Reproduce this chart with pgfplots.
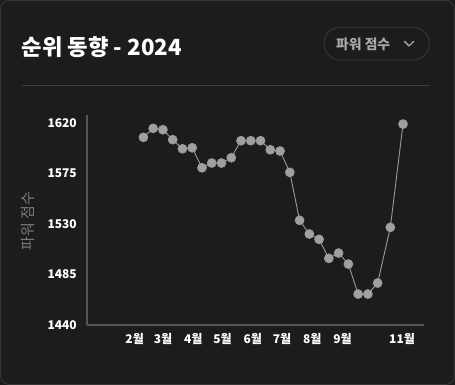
\documentclass[border=0pt]{standalone}
\usepackage{fontspec}
\setmainfont{Noto Sans CJK KR}
\usepackage{pgfplots}
\pgfplotsset{compat=1.18}
\definecolor{bg}{HTML}{1C1C1C}
\definecolor{cardborder}{HTML}{363636}
\definecolor{sepline}{HTML}{3E3E3E}
\definecolor{axisgray}{HTML}{555555}
\definecolor{ptfill}{HTML}{A0A0A0}
\definecolor{linegray}{HTML}{9A9A9A}
\definecolor{ylab}{HTML}{7A7A7A}
\definecolor{pilltext}{HTML}{A8A8A8}
\begin{document}
\begin{tikzpicture}[x=1pt,y=1pt]
\useasboundingbox (0,0) rectangle (455,385);
\fill[bg] (0,0) rectangle (455,385);
\draw[cardborder, line width=1pt, rounded corners=9pt] (0.5,0.5) rectangle (454.5,384.5);
% title
\node[anchor=west, inner sep=0pt, text=white, font=\bfseries\fontsize{22.3}{26}\selectfont] at (21.5,338.3) {순위 동향 - 2024};
% pill
\draw[cardborder, line width=0.9pt, rounded corners=16pt] (324,325) rectangle (429.3,357.7);
\node[anchor=west, inner sep=0pt, text=pilltext, font=\bfseries\fontsize{13.8}{16}\selectfont] at (336,340.7) {파워 점수};
\draw[pilltext, line width=1.4pt, line cap=round, line join=round] (404.5,343.5) -- (409,339) -- (413.5,343.5);
% separator
\draw[sepline, line width=0.9pt] (22,300) -- (430,300);
% y label
\node[rotate=90, text=ylab, font=\fontsize{15}{18}\selectfont, inner sep=0pt] at (28,164) {파워 점수};
\begin{axis}[
  at={(87pt,60.2pt)}, anchor=south west,
  width=337.3pt, height=209.8pt, scale only axis,
  xmin=-16.8, xmax=328.8, ymin=1440, ymax=1626.9,
  axis lines=left,
  axis line style={-, draw=axisgray, line width=1.5pt},
  major tick length=0pt,
  ytick={1440,1485,1530,1575,1620},
  xtick={32,61,92,122,153,183,214,245,306},
  xticklabels={2월,3월,4월,5월,6월,7월,8월,9월,11월},
  /pgf/number format/assume math mode=true,
  /pgf/number format/1000 sep={},
  tick label style={text=white, font=\bfseries\fontsize{12}{14}\selectfont},
  yticklabel style={anchor=east, inner sep=0pt, xshift=-10pt},
  xticklabel style={anchor=center, inner sep=0pt, yshift=-14.5pt},
  clip=false,
]
\addplot[color=linegray, line width=0.9pt, mark=*, mark size=4.4pt, mark options={fill=ptfill, draw=none}] coordinates {
(41,1607) (51,1615) (61,1613.8) (71,1604.9) (81,1596.8) (91,1597.7)
(101,1579.9) (111,1584.1) (121,1584.1) (131,1588.8) (141,1604) (151,1604)
(161,1604) (171,1595.9) (181,1594.8) (191,1575.8) (201,1533.1) (211,1520.9)
(221,1516.1) (231,1499.2) (241,1503.9) (251,1494.1) (261,1467.4) (271,1467.4)
(281,1477.2) (294,1526.8) (307,1618.8)
};
\end{axis}
\end{tikzpicture}
\end{document}
